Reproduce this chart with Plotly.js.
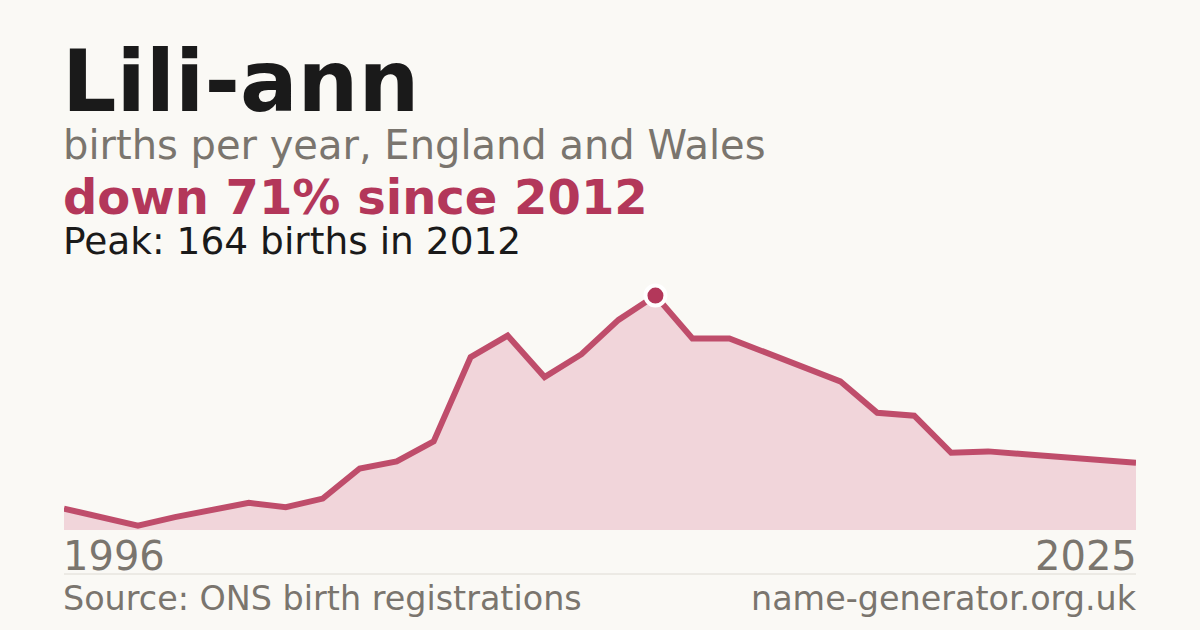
<!DOCTYPE html>
<html>
<head>
<meta charset="utf-8">
<script src="https://cdn.plot.ly/plotly-3.0.1.min.js"></script>
<style>
  html, body { margin: 0; padding: 0; background: #faf9f5; }
  #chart { width: 1200px; height: 630px; }
</style>
</head>
<body>
<div id="chart"></div>
<script>
// births per year
var years = [1996, 1997, 1998, 1999, 2000, 2001, 2002, 2003, 2004, 2005,
             2006, 2007, 2008, 2009, 2010, 2011, 2012, 2013, 2014, 2015,
             2016, 2017, 2018, 2019, 2020, 2021, 2022, 2023, 2024, 2025];
var births = [15, 9, 3, 9, 14, 19, 16, 22, 43, 48,
              62, 121, 136, 107, 123, 147, 164, 134, 134, 124,
              113, 104, 82, 80, 54, 55, 53, 51, 50, 47];
var peakYear = [2012];
var peakBirths = [164];
var endLabels = ['1996', '2025'];

var name = 'Lili-ann';
var subtitle = 'births per year, England and Wales';
var change = 'down 71% since 2012';
var peakText = 'Peak: 164 births in 2012';
var source = 'Source: ONS birth registrations';
var site = 'name-generator.org.uk';

var crimson = '#b3375a';
var grey = '#7a756e';
var font = 'DejaVu Sans, sans-serif';

var area = {
    x: years,
    y: births,
    type: 'scatter',
    mode: 'lines',
    fill: 'tozeroy',
    fillcolor: '#f1d5da',
    line: {color: '#bf4d6b', width: 6},
    hoverinfo: 'skip'
};
var peak = {
    x: peakYear,
    y: peakBirths,
    type: 'scatter',
    mode: 'markers',
    marker: {color: crimson, size: 20, line: {color: '#ffffff', width: 4}},
    cliponaxis: false,
    hoverinfo: 'skip'
};

// plot area runs 64..1136 px across, 287..530 px down
function py(p) { return (530 - p) / 243; }

function note(text, x, xanchor, yPix, size, color, bold) {
    return {
        text: bold ? '<b>' + text + '</b>' : text,
        xref: 'paper', yref: 'paper',
        x: x, y: py(yPix),
        xanchor: xanchor, yanchor: 'middle',
        showarrow: false,
        font: {family: font, size: size, color: color}
    };
}

var layout = {
    width: 1200,
    height: 630,
    paper_bgcolor: '#faf9f5',
    plot_bgcolor: '#faf9f5',
    margin: {l: 64, r: 64, t: 287, b: 100, autoexpand: false},
    showlegend: false,
    xaxis: {range: [1996, 2025], visible: false, fixedrange: true},
    yaxis: {range: [0, 170], visible: false, fixedrange: true},
    annotations: [
        note(name, -0.0035, 'left', 81, 85.5, '#1a1a1a', true),
        note(subtitle, -0.0028, 'left', 145.5, 40, grey, false),
        note(change, -0.0028, 'left', 196.5, 48, crimson, true),
        note(peakText, -0.0028, 'left', 241.5, 37.5, '#1a1a1a', false),
        note(endLabels[0], -0.0028, 'left', 555.5, 40, grey, false),
        note(endLabels[1], 1.0028, 'right', 555.5, 40, grey, false),
        note(source, -0.0028, 'left', 598, 33.4, grey, false),
        note(site, 1.0028, 'right', 598, 33.4, grey, false)
    ],
    shapes: [{
        type: 'line', xref: 'paper', yref: 'paper',
        x0: 0, x1: 1, y0: py(574), y1: py(574),
        line: {color: '#dedbd4', width: 1}
    }]
};

Plotly.newPlot('chart', [area, peak], layout, {displayModeBar: false, staticPlot: true});
</script>
</body>
</html>
